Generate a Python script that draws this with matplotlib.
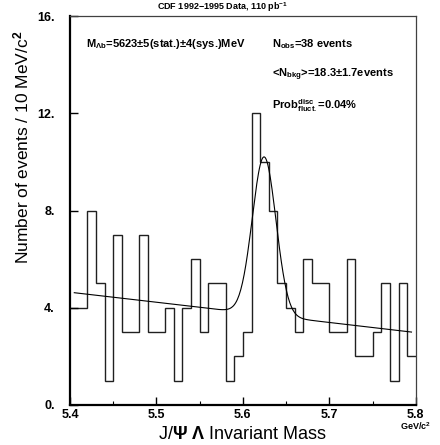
import matplotlib
matplotlib.use("Agg")
import matplotlib.pyplot as plt
import numpy as np

plt.rcParams['font.family'] = ['Liberation Sans', 'DejaVu Sans']
plt.rcParams['mathtext.fontset'] = 'custom'
plt.rcParams['mathtext.rm'] = 'Liberation Sans:bold'
plt.rcParams['mathtext.it'] = 'Liberation Sans:bold'
plt.rcParams['mathtext.bf'] = 'Liberation Sans:bold'

# J/psi Lambda mass histogram, 10 MeV bins from 5.4 to 5.8 GeV
edges = np.round(np.arange(5.40, 5.8001, 0.01), 3)
counts = [4, 4, 8, 5, 1, 7, 3, 3, 7, 3,
          3, 4, 1, 4, 6, 3, 5, 5, 1, 2,
          3, 12, 10, 8, 5, 4, 3, 6, 5, 5,
          3, 3, 6, 2, 2, 3, 5, 1, 5, 2]

# fit: linear background + gaussian
bkg_at_54 = 4.64
bkg_slope = -4.15
peak_mean = 5.6246
peak_amp = 6.5
peak_sigma = 0.0137
fit_range = (5.405, 5.795)

xticks = [5.4, 5.5, 5.6, 5.7, 5.8]
xticklabels = ['5.4', '5.5', '5.6', '5.7', '5.8']
yticks = [0, 4, 8, 12, 16]
yticklabels = ['0.', '4.', '8.', '12.', '16.']

fig = plt.figure(figsize=(4.4, 4.45), dpi=100)
ax = fig.add_axes([0.159, 0.0899, 0.786, 0.874])

ax.stairs(counts, edges, baseline=None, color='#202020', lw=1.0)

xf = np.linspace(fit_range[0], fit_range[1], 400)
yf = bkg_at_54 + bkg_slope * (xf - 5.4) + \
    peak_amp * np.exp(-0.5 * ((xf - peak_mean) / peak_sigma) ** 2)
ax.plot(xf, yf, color='black', lw=0.8)

ax.set_xlim(5.4, 5.8)
ax.set_ylim(0, 16)
ax.set_xticks(xticks)
ax.set_xticklabels(xticklabels)
ax.set_xticks([5.45, 5.55, 5.65, 5.75], minor=True)
ax.set_yticks(yticks)
ax.set_yticklabels(yticklabels)

ax.tick_params(axis='both', which='major', direction='in', length=6, width=1,
               labelsize=9)
ax.tick_params(axis='x', which='major', pad=3)
ax.tick_params(axis='y', which='major', pad=11)
ax.tick_params(axis='x', which='minor', direction='in', length=3, width=0.8)
for lab in ax.get_xticklabels() + ax.get_yticklabels():
    lab.set_fontweight('bold')

for s in ['left', 'bottom']:
    ax.spines[s].set_linewidth(1.6)
for s in ['top', 'right']:
    ax.spines[s].set_linewidth(0.9)
    ax.spines[s].set_color('#404040')

ax.set_ylabel('Number of events / 10 MeV/c$^2$', fontsize=12.5)
ax.yaxis.set_label_coords(-0.112, 0.662)
ax.set_xlabel('J/$\\Psi$ $\\Lambda$ Invariant Mass', fontsize=13)
ax.xaxis.set_label_coords(0.5, -0.054)
ax.text(1.0, -0.04, 'GeV/c$^2$', transform=ax.transAxes, fontsize=6.5,
        ha='center', va='top', fontweight='bold')

fig.text(0.505, 0.985, 'CDF 1992$-$1995 Data, 110 pb$^{-1}$', fontsize=6.5,
         fontweight='bold', ha='center', va='center')

kw = dict(transform=ax.transAxes, fontsize=8, fontweight='bold', va='center')
ax.text(0.045, 0.927, 'M$_{\\Lambda b}$=5623$\\pm$5(stat.)$\\pm$4(sys.)MeV', **kw)
ax.text(0.583, 0.927, 'N$_{obs}$=38 events', **kw)
ax.text(0.583, 0.848, '<N$_{bkg}$>=18.3$\\pm$1.7events', **kw)
ax.text(0.583, 0.770, 'Prob$^{disc}_{fluct.}$=0.04%', **kw)

fig.savefig('out.png', dpi=100)
